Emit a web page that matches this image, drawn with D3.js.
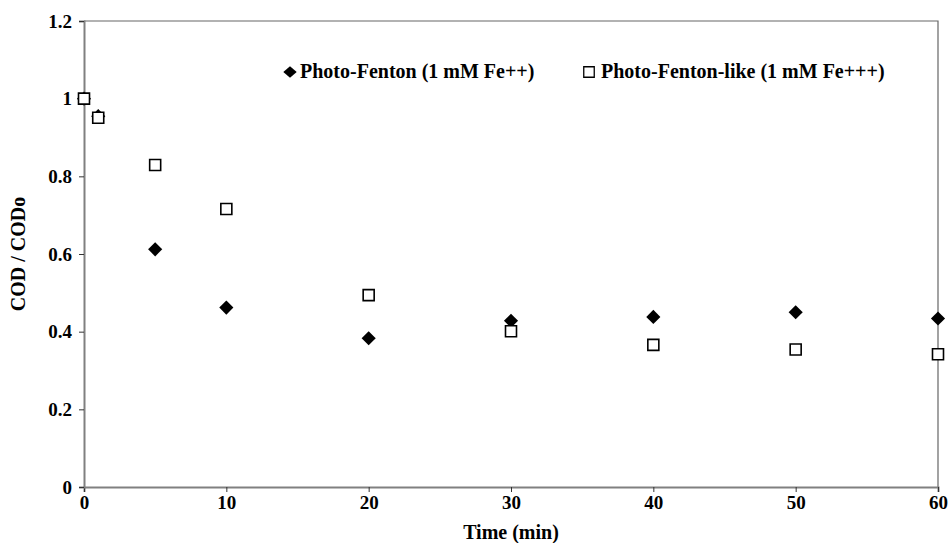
<!DOCTYPE html>
<html>
<head>
<meta charset="utf-8">
<script src="https://cdn.jsdelivr.net/npm/d3@7"></script>
<style>
  body { margin: 0; background: #fff; }
  text { font-family: "Liberation Serif", "Times New Roman", serif; font-weight: bold; fill: #000; }
</style>
</head>
<body>
<svg class="chart" width="951" height="543"></svg>
<script>
let times = [0, 1, 5, 10, 20, 30, 40, 50, 60];
let fenton = [1.0, 0.955, 0.612, 0.462, 0.383, 0.428, 0.438, 0.450, 0.434];
let fentonLike = [1.0, 0.951, 0.829, 0.716, 0.494, 0.401, 0.366, 0.354, 0.342];
let xTicks = [0, 10, 20, 30, 40, 50, 60];
let yTicks = [0, 0.2, 0.4, 0.6, 0.8, 1, 1.2];
let seriesNames = ['Photo-Fenton (1 mM Fe++)', 'Photo-Fenton-like (1 mM Fe+++)'];

let margin = {top: 21, right: 13, bottom: 56, left: 84},
    width = 951 - margin.left - margin.right,
    height = 543 - margin.top - margin.bottom;

let svg = d3.select('.chart');
let chart = svg.append('g')
    .attr('transform', 'translate(' + margin.left + ',' + margin.top + ')');

let x = d3.scaleLinear().domain([0, 60]).range([0, width]);
let y = d3.scaleLinear().domain([0, 1.2]).range([height, 0]);

// frame top + right
chart.append('path')
    .attr('d', 'M0,0H' + width + 'V' + height)
    .attr('fill', 'none')
    .attr('stroke', '#666')
    .attr('stroke-width', 1.2);

let xAxis = d3.axisBottom(x).tickValues(xTicks).tickSize(5).tickPadding(4).tickFormat(d3.format('d'));
let yAxis = d3.axisLeft(y).tickValues(yTicks).tickSize(5).tickPadding(7).tickFormat(d => d);

let gx = chart.append('g')
    .attr('transform', 'translate(0,' + height + ')')
    .call(xAxis);
let gy = chart.append('g').call(yAxis);

[gx, gy].forEach(g => {
    g.select('.domain').attr('stroke', '#808080').attr('stroke-width', 2);
    g.selectAll('.tick line').attr('stroke', '#333').attr('stroke-width', 1);
    g.selectAll('.tick text')
        .style('font-family', '"Liberation Serif", "Times New Roman", serif')
        .style('font-weight', 'bold')
        .style('font-size', '19px')
        .attr('fill', '#000');
});

// axis titles
svg.append('text')
    .attr('x', margin.left + width / 2)
    .attr('y', 539)
    .attr('text-anchor', 'middle')
    .style('font-size', '20px')
    .text('Time (min)');

svg.append('text')
    .attr('transform', 'translate(25,' + (margin.top + height / 2) + ') rotate(-90)')
    .attr('text-anchor', 'middle')
    .style('font-size', '20px')
    .text('COD / CODo');

let diamond = d3.symbol().type(d3.symbolSquare).size(100);
let square = d3.symbol().type(d3.symbolSquare).size(121);

// Photo-Fenton diamonds
chart.selectAll('.fenton')
    .data(times)
    .enter()
    .append('path')
    .attr('class', 'fenton')
    .attr('d', diamond)
    .attr('transform', (d, i) => 'translate(' + x(d) + ',' + y(fenton[i]) + ') rotate(45)')
    .attr('fill', '#000');

// Photo-Fenton-like squares
chart.selectAll('.like')
    .data(times)
    .enter()
    .append('path')
    .attr('class', 'like')
    .attr('d', square)
    .attr('transform', (d, i) => 'translate(' + x(d) + ',' + y(fentonLike[i]) + ')')
    .attr('fill', '#fff')
    .attr('stroke', '#000')
    .attr('stroke-width', 1.6);

// legend
let legend = svg.append('g');
legend.append('path')
    .attr('d', d3.symbol().type(d3.symbolSquare).size(90))
    .attr('transform', 'translate(290,72) scale(1,0.85) rotate(45)')
    .attr('fill', '#000');
legend.append('text')
    .attr('x', 300).attr('y', 78)
    .style('font-size', '20px')
    .text(seriesNames[0]);
legend.append('path')
    .attr('d', d3.symbol().type(d3.symbolSquare).size(110))
    .attr('transform', 'translate(589,72)')
    .attr('fill', '#fff')
    .attr('stroke', '#000')
    .attr('stroke-width', 1.3);
legend.append('text')
    .attr('x', 601).attr('y', 78)
    .style('font-size', '20px')
    .text(seriesNames[1]);
</script>
</body>
</html>
